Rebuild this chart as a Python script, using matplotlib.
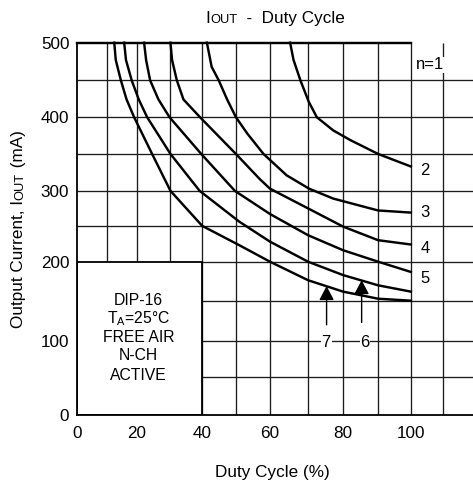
import numpy as np
import matplotlib
matplotlib.use("Agg")
import matplotlib.pyplot as plt
from matplotlib.patches import Rectangle

plt.rcParams['font.family'] = ['Liberation Sans', 'DejaVu Sans']

# ---------------- data ----------------
n_names = ['n=1', '2', '3', '4', '5', '6', '7']

x_n1 = [0, 100]
y_n1 = [500, 500]
x_n2 = [65.3, 66.2, 68, 70.2, 72.5, 77.2, 82, 90, 100]
y_n2 = [500, 477, 450, 421, 400, 382, 369, 350, 333]
x_n3 = [41.4, 42.8, 44.9, 47.4, 50, 53.3, 58.1, 64.4, 70.3, 77.2, 90, 100]
y_n3 = [500, 468, 450, 424, 400, 378, 350, 321, 303, 289, 272, 269]
x_n4 = [30, 30.5, 32, 34.1, 39.3, 50, 57, 60, 70, 80, 90, 100]
y_n4 = [500, 477, 450, 424, 400, 350, 316, 303, 275, 249, 230, 224]
x_n5 = [22.1, 22.7, 23.9, 26.4, 29.7, 39.7, 49.7, 60, 70, 80, 90, 100]
y_n5 = [500, 477, 450, 424, 400, 350, 300, 267, 237, 216, 200, 187]
x_n6 = [15.7, 16.3, 18.2, 20.5, 23, 30, 39.2, 51, 60, 70, 80, 90, 100]
y_n6 = [500, 477, 450, 424, 400, 350, 300, 256, 228, 200, 183, 170, 162]
x_n7 = [12.4, 12.9, 14.6, 16.5, 19, 24.5, 30, 40, 51, 60, 70, 80, 90, 100]
y_n7 = [500, 477, 450, 424, 400, 350, 300, 250, 223, 200, 176.5, 162, 153, 150.5]

x_ticks = [0, 20, 40, 60, 80, 100]
y_ticks = [0, 100, 200, 300, 400, 500]
x_grid = [10, 20, 30, 40, 50, 60, 70, 80, 90, 100, 110]
y_grid = [50, 100, 150, 200, 250, 300, 350, 400, 450]

box_lines = ['DIP-16', r'T$_\mathregular{A}$=25°C', 'FREE AIR', 'N-CH', 'ACTIVE']

# ---------------- drawing calibration (hand-drawn grid spacing) ----------------
_xt = [0, 10, 20, 30, 40, 50, 60, 70, 80, 90, 100, 110, 130]
_xg = [0, 9, 18, 28, 37.5, 47.6, 57.8, 69.2, 79.7, 90.2, 100, 109.7, 129.1]
_yt = [0, 50, 100, 150, 200, 250, 300, 350, 400, 450, 500, 550]
_yg = [0, 50.6, 99.8, 153, 205.9, 254, 301, 350.6, 400, 449.5, 500, 550]

def fx(v):
    return np.interp(v, _xt, _xg)

def ix(v):
    return np.interp(v, _xg, _xt)

def fy(v):
    return np.interp(v, _yt, _yg)

def iy(v):
    return np.interp(v, _yg, _yt)

W, H = 473, 486
fig = plt.figure(figsize=(W / 100, H / 100), dpi=100)
ax = fig.add_axes([77 / W, 71 / H, 396 / W, 372.3 / H])
ax.set_xscale('function', functions=(fx, ix))
ax.set_yscale('function', functions=(fy, iy))
XMAX = 119.2
ax.set_xlim(0, XMAX)
ax.set_ylim(0, 500)

gcol = '#1c1c1c'
ax.vlines(x_grid, 0, 500, color=gcol, lw=0.95, zorder=1)
ax.hlines(y_grid, 0, XMAX, color=gcol, lw=0.95, zorder=1)

# box covering lower-left grid
ax.add_patch(Rectangle((0, 0), 40, 200, facecolor='white', edgecolor='black',
                       lw=1.3, zorder=2))
box_y = [151, 127.5, 104, 79.5, 52]
for s, yy in zip(box_lines, box_y):
    ax.text(20.5, yy, s, ha='center', va='center', fontsize=11.3, zorder=5)

curves_x = [x_n1, x_n2, x_n3, x_n4, x_n5, x_n6, x_n7]
curves_y = [y_n1, y_n2, y_n3, y_n4, y_n5, y_n6, y_n7]
for xs, ys in zip(curves_x, curves_y):
    ax.plot(xs, ys, color='black', lw=1.75, zorder=4, clip_on=False,
            solid_joinstyle='round')

# curve labels
lab_kw = dict(ha='center', va='center', fontsize=12, zorder=6)
ax.text(105.9, 471, n_names[0], bbox=dict(fc='white', ec='none', pad=0.4), **lab_kw)
ax.text(104.4, 328, n_names[1], **lab_kw)
ax.text(104.4, 269, n_names[2], **lab_kw)
ax.text(104.4, 218, n_names[3], **lab_kw)
ax.text(104.4, 179, n_names[4], **lab_kw)
ax.text(75.2, 97, n_names[6], bbox=dict(fc='white', ec='none', pad=0.5), **lab_kw)
ax.text(86.2, 97, n_names[5], bbox=dict(fc='white', ec='none', pad=0.5), **lab_kw)

# arrows pointing to curves 7 and 6
astyle = '-|>,head_length=0.85,head_width=0.45'
ax.annotate('', xy=(75.3, 169), xytext=(75.3, 120),
            arrowprops=dict(arrowstyle=astyle, color='black', lw=1.0,
                            shrinkA=0, shrinkB=0), zorder=6)
ax.annotate('', xy=(85.3, 176.5), xytext=(85.3, 123),
            arrowprops=dict(arrowstyle=astyle, color='black', lw=1.0,
                            shrinkA=0, shrinkB=0), zorder=6)

# axes styling
for side in ['top', 'right']:
    ax.spines[side].set_visible(False)
for side in ['left', 'bottom']:
    ax.spines[side].set_linewidth(1.3)
    ax.spines[side].set_zorder(5)
ax.set_xticks(x_ticks)
ax.set_yticks(y_ticks)
ax.set_xticklabels([str(v) for v in x_ticks])
ax.set_yticklabels([str(v) for v in y_ticks])
ax.minorticks_off()
ax.tick_params(axis='x', length=0, pad=8.0, labelsize=12.3)
ax.tick_params(axis='y', length=0, pad=5.5, labelsize=12.3)

# ---------- text made of pieces (small-caps "OUT") ----------
fig.canvas.draw()
renderer = fig.canvas.get_renderer()

def piece_widths(pieces):
    ws = []
    for s, sz in pieces:
        t = fig.text(0, 0, s, fontsize=sz)
        bb = t.get_window_extent(renderer)
        ws.append(bb.width)
        t.remove()
    return ws

def place_pieces(pieces, cx, cy, rotation=0):
    ws = piece_widths(pieces)
    total = sum(ws)
    pos = -total / 2.0
    for (s, sz), w in zip(pieces, ws):
        if rotation == 0:
            px, py = cx + pos, cy
        else:
            px, py = cx, cy + pos
        fig.text(px / W, py / H, s, fontsize=sz, rotation=rotation,
                 rotation_mode='anchor', ha='left', va='baseline')
        pos += w

place_pieces([('I', 12.3), ('OUT', 9.3), ('  -  Duty Cycle', 12.3)], 275, H - 23)
place_pieces([('Output Current, I', 12.3), ('OUT', 9.3), (' (mA)', 12.3)], 23, H - 229,
             rotation=90)
fig.text(272 / W, 9.5 / H, 'Duty Cycle (%)', fontsize=12.3, ha='center', va='baseline')

fig.savefig('out.png', dpi=100)
